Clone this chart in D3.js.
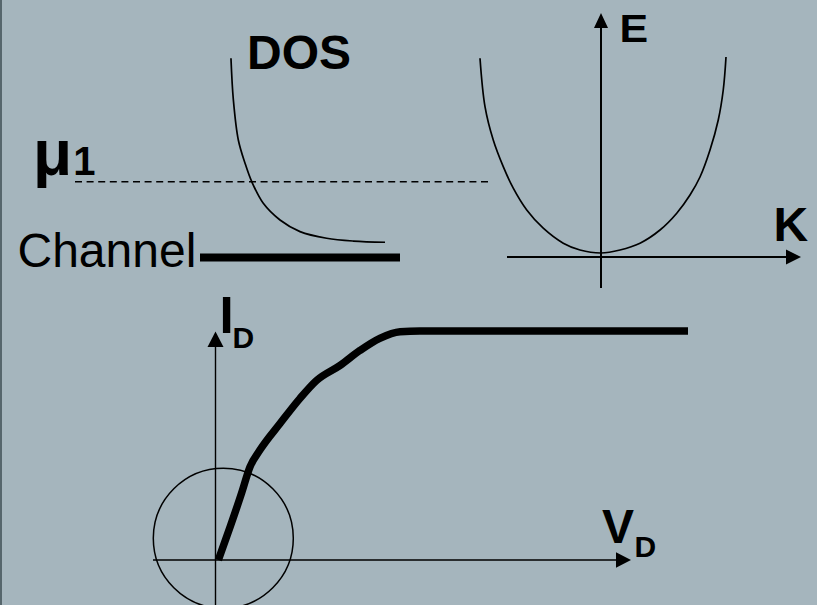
<!DOCTYPE html>
<html>
<head>
<meta charset="utf-8">
<script src="https://cdn.jsdelivr.net/npm/d3@7/dist/d3.min.js"></script>
<style>
  html, body { margin: 0; padding: 0; background: #a5b5bd; }
  svg { display: block; }
  text { font-family: "Liberation Sans", Arial, sans-serif; fill: #000; }
</style>
</head>
<body>
<script>
// ---------- data (schematic, normalized units) ----------
// Band diagram E(k): [k, E]
const bandK = [-0.968, -0.928, -0.862, -0.782, -0.702, -0.594, -0.462, -0.302, -0.168, 0, 0.152, 0.312, 0.472, 0.606, 0.712, 0.792, 0.872, 0.938, 0.978, 1.0];
const bandE = [0.994, 0.752, 0.585, 0.452, 0.344, 0.235, 0.144, 0.069, 0.035, 0.02, 0.035, 0.069, 0.135, 0.219, 0.31, 0.40, 0.535, 0.685, 0.835, 1.0];

// Density of states: [DOS, energy]
const dosValue  = [0.006, 0.021, 0.052, 0.094, 0.136, 0.208, 0.3125, 0.4375, 0.604, 0.771, 0.969];
const dosEnergy = [0.994, 0.786, 0.586, 0.470, 0.378, 0.270, 0.187, 0.129, 0.096, 0.082, 0.076];

// Levels
const mu1Level = 0.378;
const channelLevel = 0;

// I-V characteristic: [V_D, I_D]
const ivV = [0.005, 0.030, 0.054, 0.072, 0.093, 0.136, 0.178, 0.213, 0.263, 0.305, 0.347, 0.390, 0.432, 1.0];
const ivI = [0.0, 0.145, 0.291, 0.407, 0.480, 0.597, 0.706, 0.784, 0.850, 0.915, 0.968, 0.997, 1.0, 1.0];

// Labels
const labels = { dos: "DOS", mu: "\u03bc", muSub: "1", channel: "Channel", e: "E", k: "K", i: "I", v: "V", d: "D" };

// ---------- drawing ----------
const W = 817, H = 605;
const svg = d3.select("body").append("svg").attr("width", W).attr("height", H);
svg.append("rect").attr("width", W).attr("height", H).attr("fill", "#a5b5bd");
svg.append("rect").attr("x", 0).attr("y", 0).attr("width", 2).attr("height", H).attr("fill", "#56666c");

function arrow(g, x, y, dir, len, half) {
  let pts;
  if (dir === "up") pts = [[x, y], [x - half, y + len], [x + half, y + len]];
  else pts = [[x, y], [x - len, y - half], [x - len, y + half]];
  g.append("path").attr("d", "M" + pts.map(p => p.join(",")).join("L") + "Z").attr("fill", "#000");
}

// ---- DOS panel ----
const dosX = d3.scaleLinear().domain([0, 1]).range([230, 390]);
const dosY = d3.scaleLinear().domain([0, 1]).range([257.5, 57]);
const gDos = svg.append("g");

gDos.append("line")
  .attr("x1", 75).attr("x2", 490)
  .attr("y1", dosY(mu1Level)).attr("y2", dosY(mu1Level))
  .attr("stroke", "#000").attr("stroke-width", 1.5).attr("stroke-dasharray", "7,4.6");

gDos.append("line")
  .attr("x1", 200).attr("x2", 400)
  .attr("y1", dosY(channelLevel)).attr("y2", dosY(channelLevel))
  .attr("stroke", "#000").attr("stroke-width", 8);

const dosLine = d3.line().x((d, i) => dosX(dosValue[i])).y((d, i) => dosY(dosEnergy[i])).curve(d3.curveCatmullRom);
gDos.append("path").attr("d", dosLine(dosValue)).attr("fill", "none").attr("stroke", "#000").attr("stroke-width", 1.7);

gDos.append("text").attr("x", 247).attr("y", 69).attr("font-size", 48).attr("font-weight", "bold").text(labels.dos);
gDos.append("text").attr("x", 17.5).attr("y", 267).attr("font-size", 48).text(labels.channel);
const muT = gDos.append("text").attr("x", 33).attr("y", 175).attr("font-weight", "bold");
muT.append("tspan").attr("font-size", 64).text(labels.mu);
muT.append("tspan").attr("font-size", 40).attr("dx", 1).text(labels.muSub);

// ---- E-K panel ----
const kX = d3.scaleLinear().domain([-1, 1]).range([476, 726]);
const eY = d3.scaleLinear().domain([0, 1]).range([257, 57]);
const gBand = svg.append("g");

gBand.append("line").attr("x1", 507).attr("x2", 790).attr("y1", eY(0)).attr("y2", eY(0))
  .attr("stroke", "#000").attr("stroke-width", 2);
arrow(gBand, 801, eY(0), "right", 15, 7.5);
gBand.append("line").attr("x1", kX(0)).attr("x2", kX(0)).attr("y1", 288).attr("y2", 24)
  .attr("stroke", "#000").attr("stroke-width", 2);
arrow(gBand, kX(0), 13, "up", 15, 7);

const bandLine = d3.line().x((d, i) => kX(bandK[i])).y((d, i) => eY(bandE[i])).curve(d3.curveCatmullRom);
gBand.append("path").attr("d", bandLine(bandK)).attr("fill", "none").attr("stroke", "#000").attr("stroke-width", 1.7);

gBand.append("text").attr("x", 619.5).attr("y", 42).attr("font-size", 39).attr("font-weight", "bold")
  .attr("transform", "translate(619.5,0) scale(1.1,1) translate(-619.5,0)").text(labels.e);
gBand.append("text").attr("x", 773.5).attr("y", 241).attr("font-size", 48).attr("font-weight", "bold").text(labels.k);

// ---- I-V panel ----
const vX = d3.scaleLinear().domain([0, 1]).range([216, 688]);
const iY = d3.scaleLinear().domain([0, 1]).range([560, 331]);
const gIV = svg.append("g");

gIV.append("line").attr("x1", 153).attr("x2", 620).attr("y1", iY(0)).attr("y2", iY(0))
  .attr("stroke", "#000").attr("stroke-width", 1.4);
arrow(gIV, 631, iY(0), "right", 15, 7.8);
gIV.append("line").attr("x1", 215.5).attr("x2", 215.5).attr("y1", 610).attr("y2", 342)
  .attr("stroke", "#000").attr("stroke-width", 1.4);
arrow(gIV, 215.5, 331.5, "up", 15.5, 8);

gIV.append("circle").attr("cx", 223.3).attr("cy", 538.3).attr("r", 70)
  .attr("fill", "none").attr("stroke", "#000").attr("stroke-width", 1.5);

const ivLine = d3.line().x((d, i) => vX(ivV[i])).y((d, i) => iY(ivI[i])).curve(d3.curveMonotoneX);
gIV.append("path").attr("d", ivLine(ivV)).attr("fill", "none").attr("stroke", "#000").attr("stroke-width", 7.5)
  .attr("stroke-linejoin", "round");

gIV.append("text").attr("x", 219.5).attr("y", 333).attr("font-size", 51).attr("font-weight", "bold").text(labels.i);
gIV.append("text").attr("x", 232.5).attr("y", 347.5).attr("font-size", 30).attr("font-weight", "bold").text(labels.d);
gIV.append("text").attr("x", 602).attr("y", 542.5).attr("font-size", 48).attr("font-weight", "bold").text(labels.v);
gIV.append("text").attr("x", 634.5).attr("y", 556.5).attr("font-size", 30).attr("font-weight", "bold").text(labels.d);
</script>
</body>
</html>
